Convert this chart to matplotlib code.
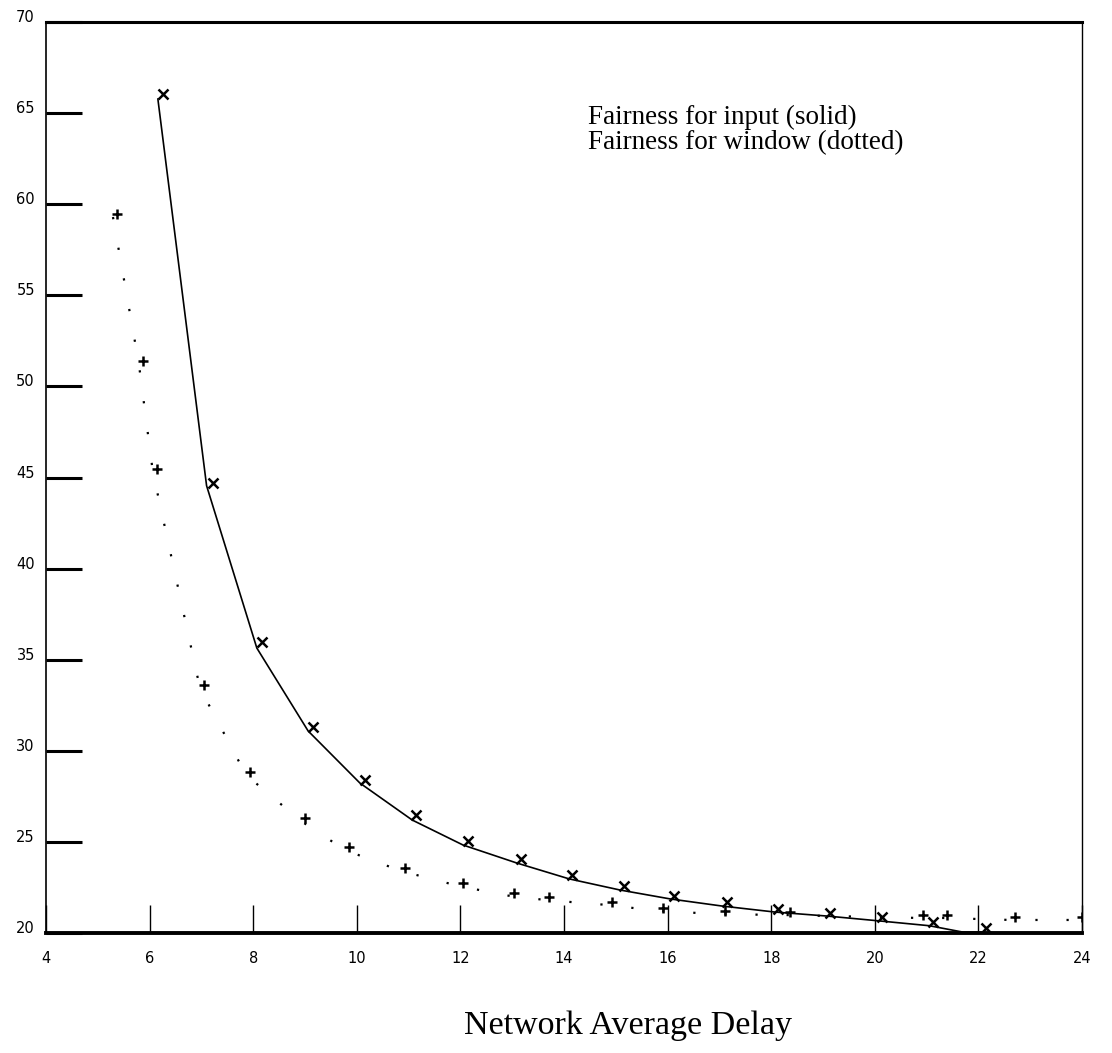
import matplotlib
matplotlib.use("Agg")
import matplotlib.pyplot as plt
import matplotlib.transforms as mtransforms

# Solid curve: fairness for input
input_line_x = [6.16, 7.10, 8.07, 9.06, 10.06, 11.07, 12.05, 13.09, 14.10, 15.08, 16.05, 17.05, 18.07, 19.08, 20.10, 21.05, 21.70, 22.05]
input_line_y = [65.77, 44.55, 35.64, 31.09, 28.23, 26.20, 24.83, 23.84, 22.97, 22.36, 21.87, 21.48, 21.15, 20.93, 20.66, 20.40, 20.05, 20.05]
input_mark_x = [6.26, 7.22, 8.17, 9.16, 10.16, 11.14, 12.15, 13.17, 14.15, 15.16, 16.12, 17.15, 18.13, 19.13, 20.14, 21.12, 22.15]
input_mark_y = [66.05, 44.70, 35.97, 31.30, 28.40, 26.48, 25.05, 24.06, 23.20, 22.58, 22.03, 21.70, 21.30, 21.10, 20.88, 20.60, 20.27]

# Dotted curve: fairness for window
window_x = [5.37, 5.87, 6.14, 7.05, 7.94, 9.00, 9.85, 10.93, 12.05, 13.03, 13.71, 14.93, 15.91, 17.11, 18.36, 20.93, 21.39, 22.70, 24.00]
window_y = [59.46, 51.40, 45.47, 33.60, 28.84, 26.31, 24.72, 23.57, 22.74, 22.20, 21.98, 21.70, 21.37, 21.20, 21.15, 20.99, 20.99, 20.88, 20.88]

xticks = [4, 6, 8, 10, 12, 14, 16, 18, 20, 22, 24]
yticks = [20, 25, 30, 35, 40, 45, 50, 55, 60, 65, 70]

legend_lines = ["Fairness for input (solid)", "Fairness for window (dotted)"]

fig = plt.figure(figsize=(11.12, 10.53), dpi=100)
ax = fig.add_axes([46/1112, 1 - 933/1053, (1082-46)/1112, (933-22)/1053])

ax.plot(input_line_x, input_line_y, color="black", lw=1.2)
ax.plot(input_mark_x, input_mark_y, ls="none", marker="x", ms=7, mew=1.8, color="black")

off = mtransforms.ScaledTranslation(-4/100, -3/100, fig.dpi_scale_trans)
ax.plot(window_x, window_y, color="black", lw=1.6, ls=(0, (1, 13)),
        transform=ax.transData + off)
ax.plot(window_x, window_y, ls="none", marker="+", ms=7, mew=1.8, color="black")

ax.set_xlim(4, 24)
ax.set_ylim(20, 70)
ax.set_xticks(xticks)
ax.set_yticks(yticks)
ax.set_xticklabels([str(v) for v in xticks])
ax.set_yticklabels([str(v) for v in yticks], va="baseline")

ax.tick_params(axis="y", direction="in", length=26, width=2.2, pad=8, labelsize=10.5)
ax.tick_params(axis="x", direction="in", length=20, width=1.0, pad=13, labelsize=10.5)
ax.spines["top"].set_linewidth(2.2)
ax.spines["bottom"].set_linewidth(2.8)
ax.spines["left"].set_linewidth(1.2)
ax.spines["right"].set_linewidth(1.0)
ax.spines["right"].set_linestyle((0, (6, 1)))

for i, line in enumerate(legend_lines):
    fig.text(588/1112, 1 - (124 + 25*i)/1053, line, family="Liberation Serif",
             fontsize=19.5, va="baseline", ha="left")

fig.text(628/1112, 1 - 1034/1053, "Network Average Delay", family="Liberation Serif",
         fontsize=24.5, ha="center", va="baseline")

fig.savefig("out.png", dpi=100)
